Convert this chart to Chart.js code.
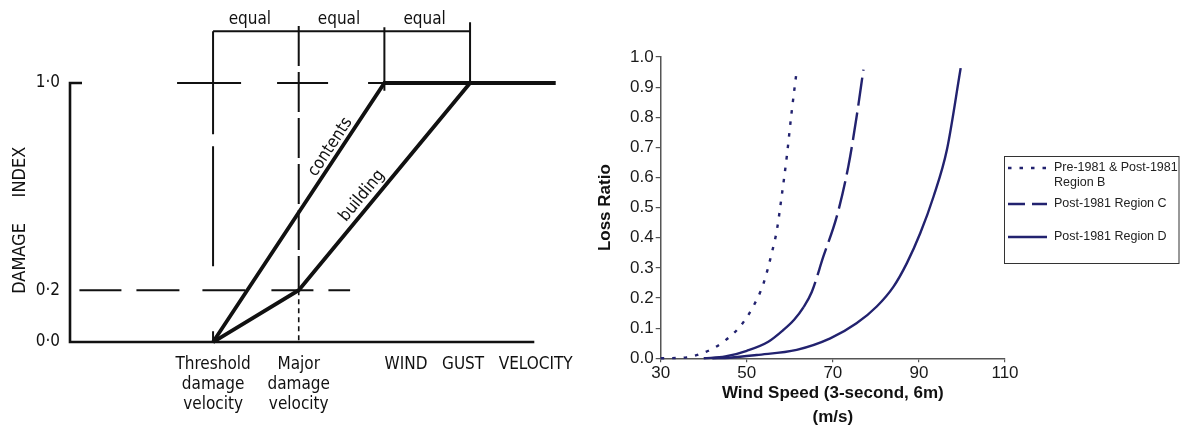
<!DOCTYPE html>
<html>
<head>
<meta charset="utf-8">
<script src="https://cdn.jsdelivr.net/npm/chart.js@4.4.1/dist/chart.umd.min.js"></script>
<style>
  body { margin: 0; background: #fff; }
  .wrap { display: flex; width: 1182px; height: 430px; }
  canvas { display: block; }
</style>
</head>
<body>
<div class="wrap">
  <canvas id="damageChart" width="590" height="430"></canvas>
  <canvas id="lossChart" width="592" height="430"></canvas>
</div>
<script>
// velocity axis is measured in "equal" steps, 0 = threshold damage velocity
const velocityTicks = [0, 1, 3.1];
const velocityLabels = [["Threshold", "damage", "velocity"], ["Major", "damage", "velocity"], "WIND   GUST   VELOCITY"];
const indexTicks = [0, 0.2, 1.0];
const contentsCurve = [[0, 0], [2, 1], [4, 1]];
const buildingCurve = [[0, 0], [1, 0.2], [3, 1]];

// construction lines of the sketch
const axisLine = [[-1.53, 1], [-1.67, 1], [-1.67, 0], [3.75, 0]];
const guideTop = [[-0.42, 1], [2, 1]];
const guideLow = [[-1.56, 0.2], [1.6, 0.2]];
const thresholdLine = [[0, 1.2], [0, 0]];
const majorUpper = [[1, 1.22], [1, 0.2]];
const majorLower = [[1, 0.2], [1, 0]];
const bracket = [[0, 1.2], [3, 1.2]];
const bracketTick2 = [[2, 1.215], [2, 0.97]];
const bracketTick3 = [[3, 1.235], [3, 1]];

// loss ratio vs 3-second gust at 6m
const windTicks = [30, 50, 70, 90, 110];
const regionB = [[30, 0], [36, 0.003], [39.1, 0.014], [42.2, 0.033], [44.6, 0.055], [48.4, 0.105], [51.5, 0.172],
  [53.9, 0.249], [55.8, 0.349], [57, 0.426], [58.1, 0.537], [59.3, 0.67], [60.4, 0.814], [61.6, 0.955]];
const regionC = [[40, 0], [45, 0.006], [50, 0.025], [55, 0.055], [58.5, 0.094], [61, 0.128], [63.2, 0.17],
  [65.1, 0.22], [67.8, 0.338], [70.9, 0.47], [73.6, 0.637], [75.5, 0.8], [77.1, 0.958]];
const regionD = [[42, 0], [46, 0.002], [52.3, 0.011], [61.6, 0.028], [69.4, 0.066], [75.5, 0.116], [80.2, 0.172],
  [84.1, 0.238], [87.2, 0.316], [90.3, 0.415], [93.4, 0.537], [96.5, 0.692], [99.7, 0.963]];
const seriesNames = [["Pre-1981 & Post-1981", "Region B"], ["Post-1981 Region C"], ["Post-1981 Region D"]];

const ink = '#111';
const navy = '#22226f';
const sketchFont = '"DejaVu Sans Condensed", "Liberation Sans Narrow", "DejaVu Sans", sans-serif';
const plainFont = '"Liberation Sans", Arial, sans-serif';

const toPoints = arr => arr.map(([x, y]) => ({ x, y }));

// keep the chart area exactly where the scales put it
const noEdgePadding = s => { s.paddingTop = 0; s.paddingBottom = 0; s.paddingLeft = 0; s.paddingRight = 0; };

function stroke(data, width, dash) {
  return {
    data: toPoints(data),
    borderColor: ink,
    borderWidth: width,
    borderDash: dash || [],
    borderCapStyle: 'butt',
    pointRadius: 0,
    tension: 0,
    clip: false
  };
}

// hand lettering on the sketch
const notes = [
  { text: 'equal', at: [0.43, 1.245] },
  { text: 'equal', at: [1.47, 1.245] },
  { text: 'equal', at: [2.47, 1.245] },
  { text: 'contents', at: [1.37, 0.753], along: [[0, 0], [2, 1]] },
  { text: 'building', at: [1.74, 0.564], along: [[1, 0.2], [3, 1]] }
];

const sketchNotes = {
  id: 'sketchNotes',
  afterDatasetsDraw(chart) {
    const { ctx, scales: { x, y } } = chart;
    ctx.save();
    ctx.fillStyle = ink;
    ctx.textAlign = 'center';
    ctx.textBaseline = 'middle';
    ctx.font = '17px ' + sketchFont;
    notes.forEach(n => {
      let angle = 0;
      if (n.along) {
        const [a, b] = n.along;
        angle = Math.atan2(y.getPixelForValue(b[1]) - y.getPixelForValue(a[1]),
                           x.getPixelForValue(b[0]) - x.getPixelForValue(a[0]));
      }
      ctx.save();
      ctx.translate(x.getPixelForValue(n.at[0]), y.getPixelForValue(n.at[1]));
      ctx.rotate(angle);
      ctx.fillText(n.text, 0, 0);
      ctx.restore();
    });
    ctx.translate(y.left + 20, y.getPixelForValue(0.47));
    ctx.rotate(-Math.PI / 2);
    ctx.font = '18px ' + sketchFont;
    ctx.fillText('DAMAGE     INDEX', 0, 0);
    ctx.restore();
  }
};

new Chart(document.getElementById('damageChart'), {
  type: 'line',
  data: {
    datasets: [
      stroke(guideTop, 2, [64, 36, 51, 40]),
      stroke(guideLow, 2, [42, 15, 43, 23, 43, 26]),
      stroke(thresholdLine, 2, [103, 12, 120, 65, 12]),
      stroke(majorUpper, 2, [40, 6]),
      stroke(majorLower, 1.6, [5, 4]),
      stroke(bracket, 2),
      stroke(bracketTick2, 2),
      stroke(bracketTick3, 2),
      stroke(axisLine, 2.6),
      stroke(contentsCurve, 3.8),
      stroke(buildingCurve, 3.8)
    ]
  },
  options: {
    responsive: false,
    animation: false,
    layout: { padding: { left: 0, right: 30, top: 0, bottom: 0 } },
    plugins: { legend: { display: false }, tooltip: { enabled: false } },
    scales: {
      x: {
        type: 'linear', min: -1.67, max: 4.05,
        grid: { display: false, drawTicks: false }, border: { display: false },
        afterBuildTicks: s => { s.ticks = velocityTicks.map(v => ({ value: v })); },
        afterFit: s => { noEdgePadding(s); s.height = 83; },
        ticks: {
          autoSkip: false, maxRotation: 0, padding: 7, color: ink,
          font: { family: sketchFont, size: 17, lineHeight: 1.2 },
          callback: (v, i) => velocityLabels[i]
        }
      },
      y: {
        min: -0.0193, max: 1.3205,
        grid: { display: false, drawTicks: false }, border: { display: false },
        afterBuildTicks: s => { s.ticks = indexTicks.map(v => ({ value: v })); },
        afterFit: s => { noEdgePadding(s); s.width = 70; },
        ticks: {
          padding: 10, color: ink,
          font: { family: sketchFont, size: 17 },
          callback: v => v.toFixed(1).replace('.', '\u00b7')
        }
      }
    }
  },
  plugins: [sketchNotes]
});

// boxed legend to the right of the plot
const legendDash = [[3.5, 8], [17, 7], []];
const boxLegend = {
  id: 'boxLegend',
  afterDraw(chart) {
    const { ctx } = chart;
    const box = { left: 414, top: 156, right: 590, bottom: 263 };
    const rows = [168, 204, 237];
    ctx.save();
    ctx.strokeStyle = '#333';
    ctx.lineWidth = 1;
    ctx.strokeRect(box.left + 0.5, box.top + 0.5, box.right - box.left - 1.5, box.bottom - box.top);
    ctx.font = '12.5px ' + plainFont;
    ctx.fillStyle = '#222';
    ctx.textBaseline = 'middle';
    chart.data.datasets.forEach((ds, i) => {
      ctx.strokeStyle = ds.borderColor;
      ctx.lineWidth = ds.borderWidth;
      ctx.setLineDash(legendDash[i]);
      ctx.beginPath();
      ctx.moveTo(418, rows[i]);
      ctx.lineTo(457, rows[i]);
      ctx.stroke();
      seriesNames[i].forEach((line, k) => ctx.fillText(line, 464, rows[i] + k * 15));
    });
    ctx.restore();
  }
};

function curve(data, dash) {
  return {
    data: toPoints(data),
    borderColor: navy,
    borderWidth: 2.4,
    borderDash: dash,
    borderCapStyle: 'butt',
    pointRadius: 0,
    cubicInterpolationMode: 'monotone',
    clip: false
  };
}

// Region C runs unbroken near the base, its dashes only open up on the steep part
const regionCurveC = curve(regionC, []);
regionCurveC.segment = { borderDash: c => (c.p0.parsed.y < 0.17 ? [] : [28, 7]) };

new Chart(document.getElementById('lossChart'), {
  type: 'line',
  data: {
    datasets: [
      curve(regionB, [3.5, 8]),
      regionCurveC,
      curve(regionD, [])
    ]
  },
  options: {
    responsive: false,
    animation: false,
    layout: { padding: { left: 0, right: 177, top: 57, bottom: 0 } },
    plugins: { legend: { display: false }, tooltip: { enabled: false } },
    scales: {
      x: {
        type: 'linear', min: 30, max: 110,
        afterBuildTicks: s => { s.ticks = windTicks.map(v => ({ value: v })); },
        afterFit: s => { noEdgePadding(s); s.height = 71.7; },
        grid: { drawOnChartArea: false, tickLength: 4, color: '#555', lineWidth: 1.2 },
        border: { color: '#555', width: 1.5 },
        ticks: { padding: 1, color: '#1a1a1a', font: { family: plainFont, size: 17 } },
        title: {
          display: true, text: ['Wind Speed (3-second, 6m)', '(m/s)'], color: '#111',
          font: { family: plainFont, size: 17, weight: 'bold', lineHeight: 1.45 },
          padding: { top: 0, bottom: 0 }
        }
      },
      y: {
        min: 0, max: 1,
        afterFit: s => { noEdgePadding(s); s.width = 70.7; },
        grid: { drawOnChartArea: false, tickLength: 5, color: '#555', lineWidth: 1.2 },
        border: { color: '#555', width: 1.5 },
        ticks: {
          stepSize: 0.1, padding: 2, color: '#1a1a1a',
          font: { family: plainFont, size: 17 },
          callback: v => v.toFixed(1)
        },
        title: {
          display: true, text: 'Loss Ratio', color: '#111',
          font: { family: plainFont, size: 17, weight: 'bold' },
          padding: { top: 5, bottom: 0 }
        }
      }
    }
  },
  plugins: [boxLegend]
});
</script>
</body>
</html>
